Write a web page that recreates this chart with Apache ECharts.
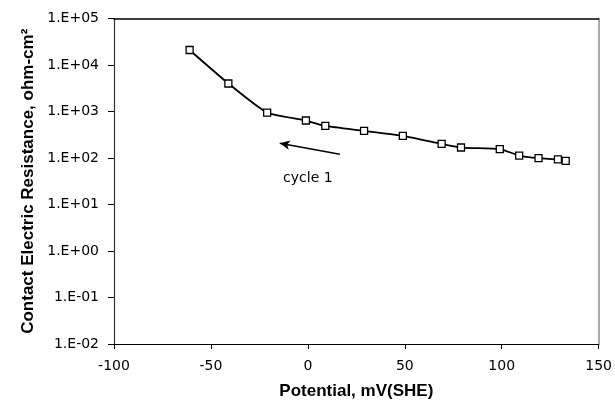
<!DOCTYPE html>
<html>
<head>
<meta charset="utf-8">
<script src="https://cdn.jsdelivr.net/npm/echarts@6/dist/echarts.min.js"></script>
<style>
html,body{margin:0;padding:0;background:#fff;}
#chart{width:615px;height:405px;}
</style>
</head>
<body>
<div id="chart"></div>
<script>
// Data
const potential = [-61, -41, -21, -1, 9, 29, 49, 69, 79, 99, 109, 119, 129, 133];
const resistance = [21000, 4000, 950, 640, 490, 385, 300, 202, 168, 155, 113, 99, 93, 87];
const yTickValues = [0.01, 0.1, 1, 10, 100, 1000, 10000, 100000];
const yTickLabels = ['1.E-02', '1.E-01', '1.E+00', '1.E+01', '1.E+02', '1.E+03', '1.E+04', '1.E+05'];
const xTickLabels = ['-100', '-50', '0', '50', '100', '150'];
const arrowFrom = [16.5, 120];
const arrowTo = [-14.5, 207];
const annotationPos = [0, 37];
const annotationText = 'cycle 1';

const chart = echarts.init(document.getElementById('chart'));
function yLabel(v) {
  const e = Math.round(Math.log10(v));
  for (let i = 0; i < yTickValues.length; i++) {
    if (Math.round(Math.log10(yTickValues[i])) === e) return yTickLabels[i];
  }
  return '';
}
function xLabel(v) {
  const s = String(Math.round(v));
  return xTickLabels.indexOf(s) >= 0 ? s : '';
}
const tickFont = { fontFamily: 'DejaVu Sans', fontSize: 14, color: '#000' };
const titleFont = { fontFamily: 'Liberation Sans', fontSize: 17, fontWeight: 'bold', color: '#000' };

chart.setOption({
  animation: false,
  backgroundColor: '#fff',
  grid: { left: 114, right: 16, top: 18.5, bottom: 61, containLabel: false },
  xAxis: [{
    type: 'value', min: -100, max: 150, interval: 50,
    name: 'Potential, mV(SHE)', nameLocation: 'middle', nameGap: 39,
    nameTextStyle: titleFont,
    axisLine: { show: true, onZero: false, lineStyle: { color: '#000', width: 1.2 } },
    axisTick: { show: true, length: 5, lineStyle: { color: '#000' } },
    axisLabel: Object.assign({ margin: 15, formatter: xLabel }, tickFont),
    splitLine: { show: false }
  }, {
    type: 'value', min: -100, max: 150, position: 'top',
    axisLine: { show: true, onZero: false, lineStyle: { color: '#000', width: 1.5 } },
    axisTick: { show: false }, axisLabel: { show: false }, splitLine: { show: false }
  }],
  yAxis: [{
    type: 'log', logBase: 10, min: 0.01, max: 100000, splitNumber: 7,
    name: 'Contact Electric Resistance, ohm-cm²', nameLocation: 'middle', nameGap: 77,
    nameTextStyle: titleFont,
    axisLine: { show: true, onZero: false, lineStyle: { color: '#333', width: 1.2 } },
    axisTick: { show: true, length: 6, lineStyle: { color: '#000' } },
    axisLabel: Object.assign({ margin: 15, formatter: yLabel }, tickFont),
    splitLine: { show: false }, minorTick: { show: false }
  }, {
    type: 'log', logBase: 10, min: 0.01, max: 100000, position: 'right',
    axisLine: { show: true, onZero: false, lineStyle: { color: '#aaa', width: 2 } },
    axisTick: { show: false }, axisLabel: { show: false }, splitLine: { show: false }
  }],
  series: [{
    type: 'line',
    data: potential.map((x, i) => [x, resistance[i]]),
    smooth: 0.2,
    symbol: 'rect', symbolSize: 7,
    lineStyle: { color: '#000', width: 1.8 },
    itemStyle: { color: '#fff', borderColor: '#000', borderWidth: 1.3 },
    z: 3,
    markLine: {
      silent: true, symbol: ['none', 'arrow'], symbolSize: [7, 10],
      label: { show: false },
      lineStyle: { color: '#000', width: 1.5, type: 'solid' },
      data: [[{ coord: arrowFrom }, { coord: arrowTo }]]
    },
    markPoint: {
      silent: true, symbol: 'circle', symbolSize: 0,
      label: { show: true, position: 'inside', formatter: annotationText,
        fontFamily: 'DejaVu Sans', fontSize: 14, color: '#000' },
      data: [{ coord: annotationPos, value: annotationText }]
    }
  }]
});
</script>
</body>
</html>
